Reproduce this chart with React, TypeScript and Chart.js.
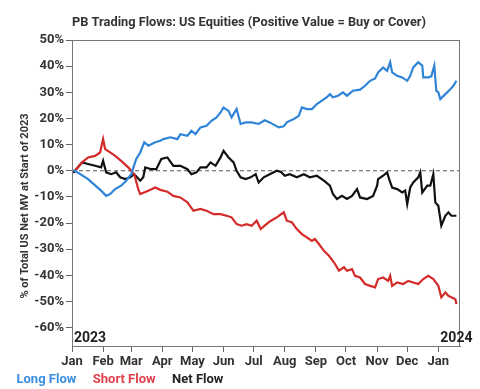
import React, { useEffect, useRef } from "react";
import { Chart, registerables } from "chart.js";

Chart.register(...registerables);

const chartTitle = "PB Trading Flows: US Equities (Positive Value = Buy or Cover)";
const yAxisTitle = "% of Total US Net MV at Start of 2023";
const monthTickDays = [0, 31, 59, 90, 120, 151, 181, 212, 243, 273, 304, 334, 365];
const monthTickLabels = ["Jan", "Feb", "Mar", "Apr", "May", "Jun", "Jul", "Aug", "Sep", "Oct", "Nov", "Dec", "Jan"];
const yTickValues = [-60, -50, -40, -30, -20, -10, 0, 10, 20, 30, 40, 50];
const yearLabels = ["2023", "2024"];
const yearLabelDays = [0, 365];
const seriesNames = ["Long Flow", "Short Flow", "Net Flow"];
const seriesColors = ["#2f84d8", "#d42a2a", "#111111"];
const legendColors = ["#3a8ee0", "#e0404c", "#222222"];

// day offsets from 1 Jan 2023 and values (%) for each series
const longDays = [0, 3, 16, 29, 34, 38, 43, 49, 54, 59, 64, 68, 72, 76, 83, 88, 91, 98, 105, 108, 115, 119, 123, 128, 134, 139, 144, 148, 151, 156, 159, 164, 168, 173, 179, 186, 192, 197, 206, 211, 214, 221, 226, 229, 234, 239, 244, 249, 254, 257, 260, 265, 270, 274, 280, 287, 292, 297, 302, 305, 310, 314, 317, 319, 324, 329, 334, 337, 340, 345, 349, 350, 355, 358, 361, 363, 365, 367, 372, 377, 380, 383];
const longValues = [0, 0, -3.2, -7.6, -9.6, -8.9, -7.0, -5.7, -3.8, -1.3, 4.5, 7.0, 10.9, 9.6, 10.9, 11.5, 12.1, 12.8, 12.1, 14.0, 13.4, 15.3, 14.0, 16.6, 17.2, 19.1, 20.4, 22.3, 24.2, 22.9, 20.4, 23.6, 17.9, 18.5, 18.5, 17.9, 19.3, 18.5, 16.6, 17.0, 18.5, 19.8, 21.0, 24.2, 23.6, 23.6, 25.5, 26.8, 28.1, 29.3, 28.1, 28.7, 30.0, 28.7, 30.6, 31.0, 32.5, 34.4, 35.3, 37.6, 39.5, 38.2, 41.5, 37.6, 36.3, 35.7, 34.4, 36.3, 39.5, 41.5, 40.2, 35.7, 35.7, 36.1, 40.2, 30.6, 30.0, 27.4, 29.3, 31.2, 32.5, 34.4];

const shortDays = [0, 3, 10, 16, 23, 28, 31, 33, 38, 43, 49, 56, 62, 66, 68, 76, 83, 88, 95, 101, 108, 115, 121, 128, 134, 141, 148, 154, 159, 164, 169, 174, 179, 184, 188, 192, 197, 204, 211, 214, 219, 224, 229, 234, 239, 242, 246, 251, 256, 261, 266, 271, 274, 279, 282, 287, 292, 297, 302, 305, 310, 315, 317, 319, 324, 330, 335, 340, 345, 350, 355, 360, 365, 368, 372, 375, 378, 382, 383];
const shortValues = [0, 0, 3.2, 5.1, 5.7, 7.0, 12.1, 8.3, 7.0, 5.7, 3.8, 1.3, -1.3, -7.0, -8.9, -7.6, -6.4, -7.3, -8.0, -9.6, -10.2, -12.1, -15.3, -14.6, -15.3, -16.6, -16.6, -17.2, -17.8, -20.4, -21.0, -20.4, -21.0, -19.1, -22.3, -21.0, -19.4, -17.8, -15.9, -19.1, -19.7, -22.3, -24.2, -25.5, -26.8, -26.1, -28.0, -30.6, -32.5, -35.0, -38.2, -36.9, -38.2, -37.6, -40.2, -40.8, -43.3, -44.0, -44.6, -41.4, -40.8, -42.1, -40.2, -44.0, -42.7, -43.3, -42.1, -42.7, -43.3, -41.4, -40.2, -41.4, -44.0, -48.4, -46.5, -47.8, -48.4, -49.1, -51.0];

const netDays = [0, 2, 10, 16, 23, 29, 31, 34, 39, 44, 48, 53, 58, 62, 68, 71, 73, 79, 84, 89, 95, 101, 108, 115, 119, 124, 128, 134, 138, 143, 148, 151, 156, 161, 164, 168, 173, 178, 183, 186, 191, 197, 204, 208, 212, 217, 224, 231, 237, 244, 251, 257, 260, 264, 269, 274, 279, 284, 287, 294, 300, 304, 305, 310, 314, 316, 319, 324, 329, 332, 334, 337, 340, 345, 347, 349, 354, 357, 360, 362, 365, 368, 372, 375, 378, 383];
const netValues = [0, -0.5, 3.2, 2.6, 1.9, 1.3, 3.8, -0.6, -1.3, -0.6, -2.5, -3.2, -2.5, -1.3, -3.8, -2.5, 1.3, 0.6, 0.6, 4.5, 5.1, 1.9, 1.9, 0.6, -1.3, -0.6, 1.3, 1.3, 3.2, 1.9, 5.1, 7.6, 5.1, 3.2, 0, -2.5, -3.2, -2.5, -1.3, -4.5, -2.5, -1.3, 0, -0.4, -1.9, -1.3, -2.5, -1.3, -2.5, -1.9, -3.8, -5.7, -8.9, -10.8, -9.6, -10.8, -9.6, -7.0, -10.2, -10.8, -9.6, -5.7, -3.2, -1.9, -0.6, -3.2, -6.4, -7.0, -8.3, -7.6, -12.7, -6.4, -4.5, -2.5, -0.6, -8.3, -5.7, -5.7, -1.3, -12.1, -13.4, -21.0, -17.2, -15.9, -17.2, -17.2];

const FONT = "Roboto";

const frameAndMarks = {
  id: "frameAndMarks",
  beforeDraw(chart: any) {
    const xs = chart.scales.x;
    if (xs) xs._computeLabelArea = () => undefined;
  },
  beforeDatasetsDraw(chart: any) {
    const { ctx, chartArea, scales } = chart;
    const y0 = scales.y.getPixelForValue(0);
    ctx.save();
    ctx.strokeStyle = "#555";
    ctx.lineWidth = 1;
    ctx.setLineDash([4, 3]);
    ctx.beginPath();
    ctx.moveTo(chartArea.left, y0);
    ctx.lineTo(chartArea.right, y0);
    ctx.stroke();
    ctx.restore();
  },
  afterDraw(chart: any) {
    const { ctx, chartArea, scales } = chart;
    ctx.save();
    ctx.strokeStyle = "#777";
    ctx.lineWidth = 1;
    ctx.strokeRect(chartArea.left + 0.5, chartArea.top + 0.5, chartArea.right - chartArea.left - 1, chartArea.bottom - chartArea.top);
    // title
    ctx.fillStyle = "#333";
    ctx.font = `bold 12.8px ${FONT}`;
    ctx.textAlign = "center";
    ctx.textBaseline = "middle";
    ctx.fillText(chartTitle, 249, 23);
    // y axis title
    ctx.save();
    ctx.translate(25, 206);
    ctx.rotate(-Math.PI / 2);
    ctx.font = `bold 11px ${FONT}`;
    ctx.fillText(yAxisTitle, 0, 0);
    ctx.restore();
    // year labels inside the plot
    ctx.fillStyle = "#222";
    ctx.font = `bold 14px ${FONT}`;
    ctx.textAlign = "left";
    ctx.textBaseline = "alphabetic";
    yearLabels.forEach((t, i) => {
      const x = scales.x.getPixelForValue(yearLabelDays[i]) + 2;
      ctx.fillText(t, x, chartArea.bottom - 4);
    });
    ctx.restore();
  },
};

export default function App() {
  const ref = useRef<HTMLCanvasElement>(null);
  useEffect(() => {
    document.body.style.margin = "0";
    const canvas = ref.current!;
    const mk = (days: number[], vals: number[]) => days.map((d, i) => ({ x: d, y: vals[i] }));
    const chart = new Chart(canvas, {
      type: "line",
      data: {
        datasets: [
          { label: seriesNames[0], data: mk(longDays, longValues), borderColor: seriesColors[0], borderWidth: 2.2, pointRadius: 0, tension: 0 },
          { label: seriesNames[1], data: mk(shortDays, shortValues), borderColor: seriesColors[1], borderWidth: 2.2, pointRadius: 0, tension: 0 },
          { label: seriesNames[2], data: mk(netDays, netValues), borderColor: seriesColors[2], borderWidth: 2.2, pointRadius: 0, tension: 0 },
        ],
      },
      options: {
        animation: false,
        responsive: true,
        maintainAspectRatio: false,
        layout: { padding: { left: 0, right: 20, top: 40, bottom: -7 } },
        plugins: {
          title: { display: false },
          legend: {
            position: "bottom",
            align: "start",
            labels: {
              boxWidth: 0,
              boxHeight: 0,
              padding: 10,
              font: { family: FONT, size: 13, weight: "bold" },
              generateLabels: (c: any) =>
                c.data.datasets.map((ds: any, i: number) => ({
                  text: ds.label,
                  fontColor: legendColors[i],
                  fillStyle: "transparent",
                  strokeStyle: "transparent",
                  lineWidth: 0,
                  hidden: false,
                  datasetIndex: i,
                })),
            },
          },
          tooltip: { enabled: false },
        },
        scales: {
          x: {
            type: "linear",
            min: 0,
            max: 386.6,
            afterBuildTicks: (s: any) => {
              s.ticks = monthTickDays.map((v) => ({ value: v }));
            },
            afterFit: (s: any) => {
              s.height = 17;
            },
            ticks: {
              autoSkip: false,
              maxRotation: 0,
              padding: 2,
              color: "#333",
              font: { family: FONT, size: 13, weight: "bold" },
              callback: (_v: any, i: number) => monthTickLabels[i],
            },
            grid: { drawOnChartArea: false, drawTicks: true, tickLength: 6, color: "#666" },
            border: { display: true, color: "#666" },
          },
          y: {
            min: -67,
            max: 50,
            afterBuildTicks: (s: any) => {
              s.ticks = yTickValues.map((v) => ({ value: v }));
            },
            afterFit: (s: any) => {
              s.width = 72;
            },
            ticks: {
              autoSkip: false,
              padding: 2,
              color: "#333",
              font: { family: FONT, size: 13, weight: "bold" },
              callback: (v: any) => `${v}%`,
            },
            grid: { drawOnChartArea: false, drawTicks: true, tickLength: 6, color: "#666" },
            border: { display: true, color: "#666" },
          },
        },
      },
      plugins: [frameAndMarks],
    });
    return () => chart.destroy();
  }, []);
  return (
    <div style={{ width: 480, height: 389, position: "relative" }}>
      <canvas ref={ref} />
    </div>
  );
}
